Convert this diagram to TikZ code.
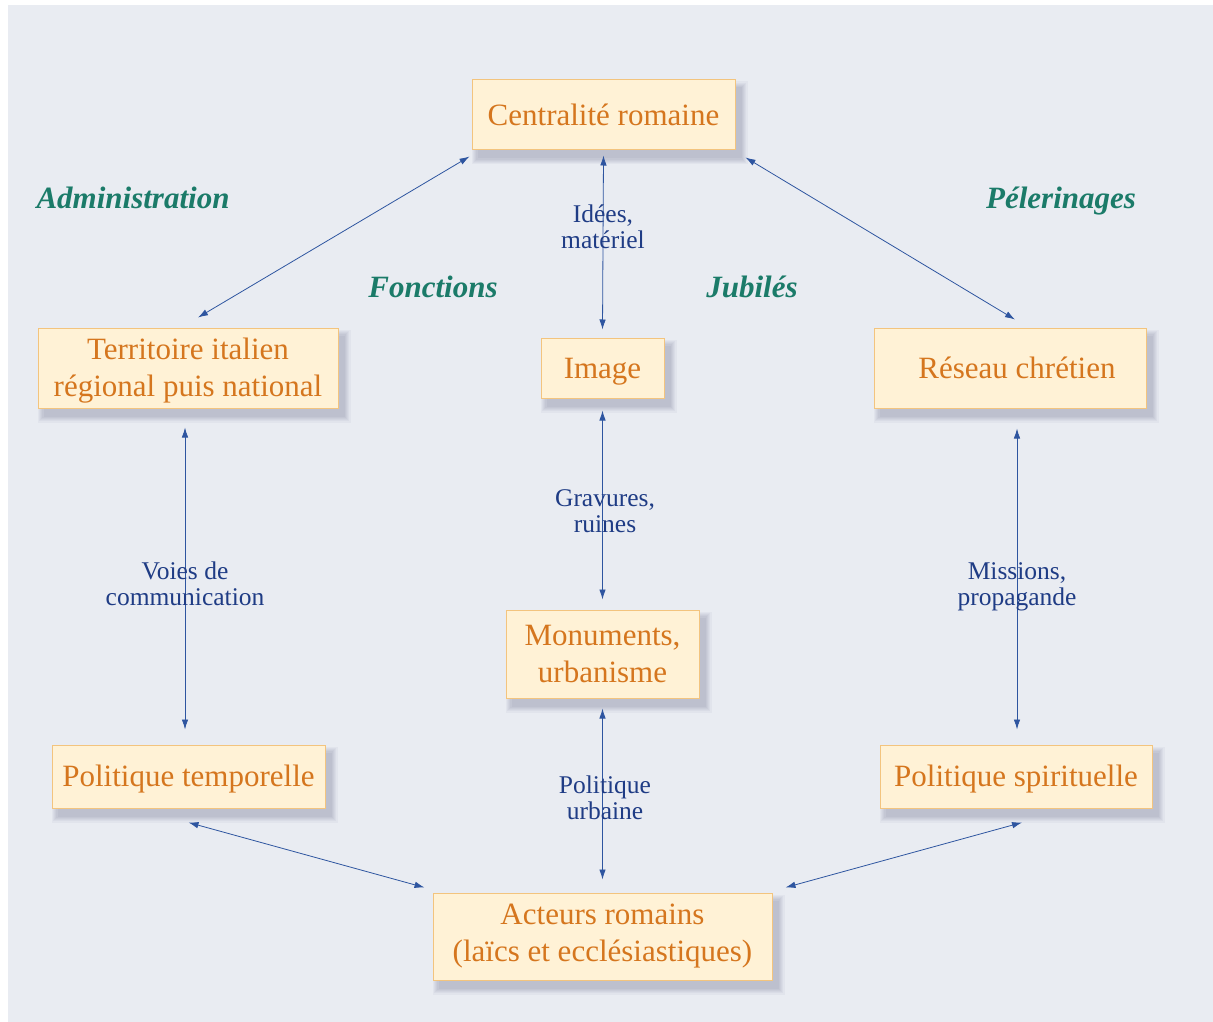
\documentclass[tikz,border=0pt]{standalone}
\usepackage{fontspec}
\setmainfont{Liberation Serif}
\usetikzlibrary{arrows.meta}
\definecolor{bgc}{HTML}{E9ECF2}
\definecolor{boxfill}{HTML}{FFF2D6}
\definecolor{boxline}{HTML}{F3C47E}
\definecolor{boxtext}{HTML}{D5761E}
\definecolor{arrowblue}{HTML}{2E55A0}
\definecolor{labelblue}{HTML}{1F3C85}
\definecolor{tealc}{HTML}{1B7B69}
\pgfdeclarelayer{bglayer}
\pgfdeclarelayer{shadowlayer}
\pgfsetlayers{bglayer,shadowlayer,main}
\newcommand{\lowerit}[2]{\raisebox{-#1}[\height][\depth]{#2}}
\begin{document}
\begin{tikzpicture}[x=1pt,y=-1pt,
  box/.style={draw=boxline, fill=boxfill, line width=1pt, text=boxtext,
    font=\fontsize{31}{37}\selectfont, align=center, inner sep=0pt},
  arr/.style={{Latex[length=10pt,width=6.5pt]}-{Latex[length=10pt,width=6.5pt]}, draw=arrowblue, line width=0.8pt},
  lbl/.style={text=labelblue, font=\fontsize{25.5}{26}\selectfont, align=center, inner sep=0pt},
  theme/.style={text=tealc, font=\bfseries\itshape\fontsize{31}{34}\selectfont, inner sep=0pt}]
\useasboundingbox (0,0) rectangle (1213,1022);
\begin{pgfonlayer}{bglayer}
\fill[white] (0,0) rectangle (1213,1022);
\fill[bgc] (8,5) rectangle (1213,1022);
\end{pgfonlayer}

\node[box, minimum width=263pt, minimum height=70pt] (cent) at (603.5,115) {Centralité romaine};
\node[box, minimum width=300pt, minimum height=80pt] (terr) at (188,368) {\lowerit{3pt}{\begin{tabular}{@{}c@{}}Territoire italien\\régional puis national\end{tabular}}};
\node[box, minimum width=123pt, minimum height=60pt] (img) at (602.5,368) {\lowerit{4pt}{Image}};
\node[box, minimum width=272pt, minimum height=80pt] (res) at (1010,368) {\hspace*{14pt}Réseau chrétien};
\node[box, minimum width=193pt, minimum height=88pt] (mon) at (602.5,654) {Monuments,\\urbanisme};
\node[box, minimum width=273pt, minimum height=63pt] (polt) at (188.5,776.5) {\lowerit{3pt}{Politique temporelle}};
\node[box, minimum width=272pt, minimum height=63pt] (pols) at (1016,776.5) {\lowerit{3pt}{Politique spirituelle}};
\node[box, minimum width=339pt, minimum height=87pt] (act) at (602.5,936.5) {Acteurs romains\\(laïcs et ecclésiastiques)};

\begin{pgfonlayer}{shadowlayer}
\foreach \n in {cent,terr,img,res,mon,polt,pols,act}{
  \foreach \k in {0,...,5}{
    \fill[black!80!blue, opacity=0.032]
      ([xshift={6pt-1.2pt*\k}, yshift={-8pt+1.2pt*\k}]\n.north west)
      rectangle ([xshift={6pt+1.2pt*\k}, yshift={-8pt-1.2pt*\k}]\n.south east);
  }
}
\end{pgfonlayer}

\draw[arr] ([xshift=-2pt,yshift=-6pt]cent.south west) -- ([xshift=10pt,yshift=10pt]terr.north);
\draw[arr] ([yshift=-5pt]cent.south) -- ([yshift=8pt]img.north);
\draw[arr] ([xshift=10pt,yshift=-7pt]cent.south east) -- ([xshift=5pt,yshift=8pt]res.north);
\draw[arr] ([xshift=-3pt,yshift=-19pt]terr.south) -- ([xshift=-3.5pt,yshift=15pt]polt.north);
\draw[arr] ([yshift=-12pt]img.south) -- ([yshift=10pt]mon.north);
\draw[arr] ([xshift=7pt,yshift=-20pt]res.south) -- ([xshift=1pt,yshift=15pt]pols.north);
\draw[arr] ([yshift=-10pt]mon.south) -- ([yshift=13pt]act.north);
\draw[arr] ([yshift=-14pt]polt.south) -- ([xshift=-8pt,yshift=5pt]act.north west);
\draw[arr] ([xshift=6pt,yshift=-14pt]pols.south) -- ([xshift=13pt,yshift=5pt]act.north east);

\node[lbl] (l1) at (603,227) {Idées,\\matériel};
\node[lbl] (l2) at (605,511) {Gravures,\\ruines};
\node[lbl] (l3) at (185,584) {Voies de\\communication};
\node[lbl] (l4) at (1017,587) {Missions,\\propagande};
\node[lbl] (l5) at (605,798) {Politique\\urbaine};

\node[theme] (t1) at (133,198) {Administration};
\node[theme] (t2) at (433,287) {Fonctions};
\node[theme] (t3) at (752,287) {Jubilés};
\node[theme] (t4) at (1061,201) {Pélerinages};
\end{tikzpicture}
\end{document}
